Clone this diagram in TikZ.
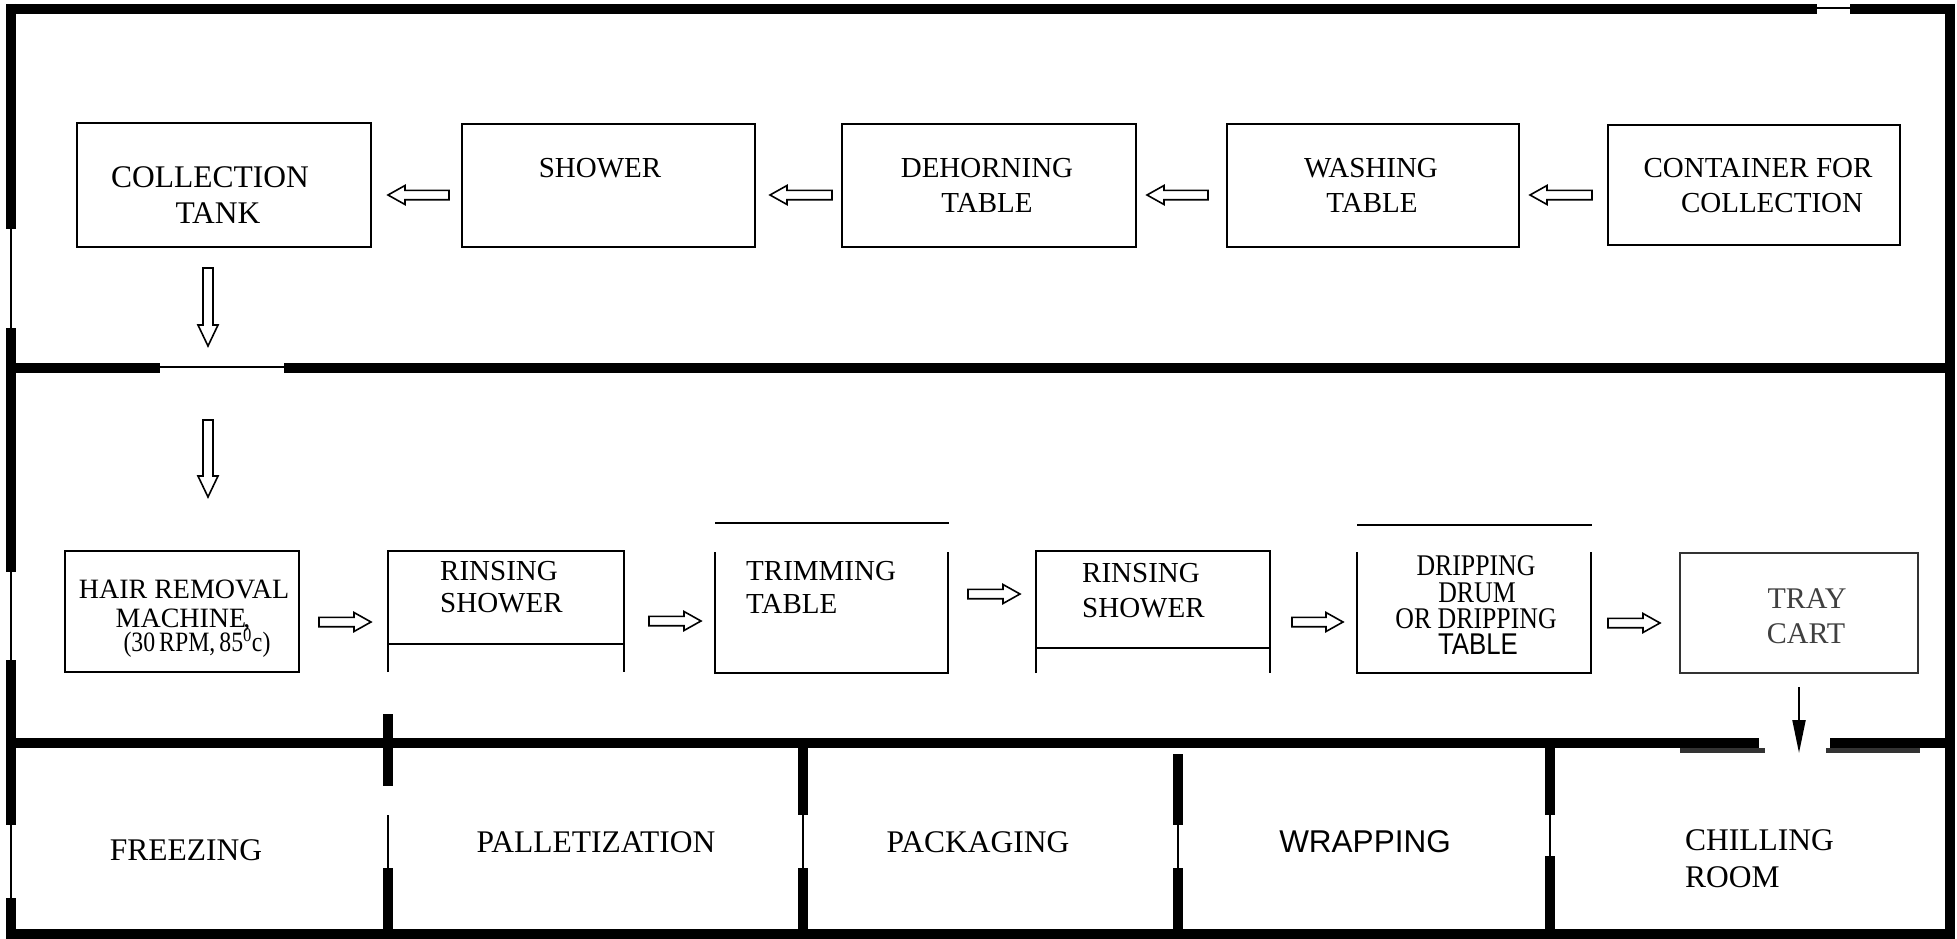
\documentclass[tikz,border=0pt]{standalone}
\usepackage{fontspec}
\usepackage{graphicx}
\setmainfont{Liberation Serif}
\newfontfamily\arialf{Liberation Sans}
\usetikzlibrary{calc,arrows.meta}
\tikzset{
  wall/.style={line width=10pt, line cap=butt},
  door/.style={line width=1.6pt},
  box/.style={draw, line width=1.8pt, inner sep=0pt, outer sep=0pt},
  ghost/.style={inner sep=0pt, outer sep=0pt},
  edge/.style={line width=1.8pt},
  lbl/.style={inner sep=0pt, anchor=base, font=\fontsize{29}{35}\selectfont},
  lblw/.style={lbl, anchor=base west},
  big/.style={font=\fontsize{31.5}{38}\selectfont},
  mid/.style={font=\fontsize{28}{34}\selectfont},
  drp/.style={font=\fontsize{30}{36}\selectfont},
  arrowline/.style={line width=1.6pt, line join=miter},
  pics/hblk/.style={code={\draw[arrowline] (0,0) -- (-17,9.5) -- (-17,4.7) -- (-#1,4.7) -- (-#1,-4.7) -- (-17,-4.7) -- (-17,-9.5) -- cycle;}},
  pics/vblk/.style={code={\draw[arrowline] (0,0) -- (-21,10) -- (-21,5) -- (-#1,5) -- (-#1,-5) -- (-21,-5) -- (-21,-10) -- cycle;}},
}
\begin{document}
\begin{tikzpicture}[x=1pt,y=-1pt]
\useasboundingbox (0,0) rectangle (1957,939);
\fill[white] (0,0) rectangle (1957,939);

% ---- walls ----
\draw[wall] (6,9) -- (1817,9);
\draw[wall] (1850,9) -- (1955,9);
\draw[door] (1817,8) -- (1850,8);
\draw[wall] (1950,4) -- (1950,939);
\draw[wall] (6,934) -- (1955,934);
\draw[wall] (11,4) -- (11,229);
\draw[wall] (11,328) -- (11,572);
\draw[wall] (11,660) -- (11,825);
\draw[wall] (11,898) -- (11,939);
\draw[door] (11,229) -- (11,328);
\draw[door] (11,572) -- (11,660);
\draw[door] (11,825) -- (11,898);
\draw[wall] (6,368) -- (160,368);
\draw[wall] (284,368) -- (1955,368);
\draw[door] (160,367) -- (284,367);
\draw[wall] (6,743) -- (1759,743);
\draw[wall] (1830,743) -- (1955,743);
\draw[line width=5pt, black!80] (1680,750) -- (1765,750);
\draw[line width=5pt, black!80] (1826,750) -- (1920,750);
% room dividers
\draw[wall] (388,714) -- (388,786);
\draw[wall] (388,868) -- (388,934);
\draw[door] (388,815) -- (388,868);
\draw[wall] (803,743) -- (803,815);
\draw[wall] (803,868) -- (803,934);
\draw[door] (803,815) -- (803,868);
\draw[wall] (1178,754) -- (1178,825);
\draw[wall] (1178,868) -- (1178,934);
\draw[door] (1178,825) -- (1178,868);
\draw[wall] (1550,743) -- (1550,815);
\draw[wall] (1550,856) -- (1550,934);
\draw[door] (1550,815) -- (1550,856);

% ---- top row boxes ----
\node[box, minimum width=294, minimum height=124] (tank) at (224,185) {};
\node[box, minimum width=293, minimum height=123] (shower) at (608.5,185.5) {};
\node[box, minimum width=294, minimum height=123] (dehorn) at (989,185.5) {};
\node[box, minimum width=292, minimum height=123] (wash) at (1373,185.5) {};
\node[box, minimum width=292, minimum height=120] (cont) at (1754,185) {};

\node[lbl, big] (tankA) at (210,187) {COLLECTION};
\node[lbl, big] (tankB) at (218,223) {TANK};
\node[lbl] (showerA) at (600,177) {SHOWER};
\node[lbl] (dehornA) at (987,177) {DEHORNING};
\node[lbl] (dehornB) at (987,212) {TABLE};
\node[lbl] (washA) at (1371,178) {WASHING};
\node[lbl] (washB) at (1372,212) {TABLE};
\node[lbl] (contA) at (1758,178) {CONTAINER FOR};
\node[lbl] (contB) at (1772,212) {COLLECTION};

\pic[rotate=180] at ($(tank.east)+(17,10)$) {hblk=61};
\pic[rotate=180] at ($(shower.east)+(15,9.5)$) {hblk=62};
\pic[rotate=180] at ($(dehorn.east)+(11,9.5)$) {hblk=61};
\pic[rotate=180] at ($(wash.east)+(11,9.5)$) {hblk=62};
\pic[rotate=-90] at ($(tank.south)+(-16,99)$) {vblk=78};

% ---- middle row ----
\node[box, minimum width=234, minimum height=121] (hair) at (182,611.5) {};
\pic[rotate=-90] at ($(hair.north)+(26,-54)$) {vblk=77};
\node[lbl, mid] (hairA) at (184,598) {HAIR REMOVAL};
\node[lbl, mid] (hairB) at (183,627) {MACHINE\kern-3pt,};
\node[lbl, mid] (hairC) at (197,651) {\scalebox{0.85}[1]{(30\,RPM,\,85\textsuperscript{0}c)}};

\node[ghost, minimum width=236, minimum height=121] (rs1) at (506,611.5) {};
\draw[edge] (rs1.south west) -- (rs1.north west) -- (rs1.north east) -- (rs1.south east);
\draw[edge] ($(rs1.north west)+(0,93)$) -- ($(rs1.north east)+(0,93)$);
\node[lblw] (rs1A) at (440,580) {RINSING};
\node[lblw] (rs1B) at (440,612) {SHOWER};

\node[ghost, minimum width=233, minimum height=121] (trim) at (831.5,612.5) {};
\draw[edge] (trim.north west) -- (trim.south west) -- (trim.south east) -- (trim.north east);
\draw[edge] ($(trim.north west)+(0,-29)$) -- ($(trim.north east)+(1,-29)$);
\node[lblw] (trimA) at (746,580) {TRIMMING};
\node[lblw] (trimB) at (746,613) {TABLE};

\node[ghost, minimum width=234, minimum height=122] (rs2) at (1153,612) {};
\draw[edge] (rs2.south west) -- (rs2.north west) -- (rs2.north east) -- (rs2.south east);
\draw[edge] ($(rs2.north west)+(0,97)$) -- ($(rs2.north east)+(0,97)$);
\node[lblw] (rs2A) at (1082,582) {RINSING};
\node[lblw] (rs2B) at (1082,617) {SHOWER};

\node[ghost, minimum width=234, minimum height=121] (drip) at (1474,612.5) {};
\draw[edge] (drip.north west) -- (drip.south west) -- (drip.south east) -- (drip.north east);
\draw[edge] ($(drip.north west)+(0,-27)$) -- ($(drip.north east)+(1,-27)$);
\node[lbl, drp] (dripA) at (1476,575) {\scalebox{0.86}[1]{DRIPPING}};
\node[lbl, drp] (dripB) at (1477,602) {\scalebox{0.86}[1]{DRUM}};
\node[lbl, drp] (dripC) at (1476,628) {\scalebox{0.86}[1]{OR DRIPPING}};
\node[lbl, drp] (dripD) at (1478,654) {\scalebox{0.86}[1]{\arialf TABLE}};

\node[box, draw=black!80, line width=2.5pt, minimum width=238, minimum height=120] (tray) at (1799,613) {};
\node[lbl, drp, text=black!75] (trayA) at (1807,608) {TRAY};
\node[lbl, drp, text=black!75] (trayB) at (1806,643) {CART};

\pic at ($(rs1.west)+(-17,10.5)$) {hblk=52};
\pic at ($(trim.west)+(-14,8.5)$) {hblk=52};
\pic at ($(rs2.west)+(-16,-18)$) {hblk=52};
\pic at ($(drip.west)+(-14,9.5)$) {hblk=51};
\pic at ($(tray.west)+(-20,10)$) {hblk=52};

\coordinate (chillin) at (1799,753);
\draw[line width=2pt, -{Triangle[length=33pt,width=13pt]}] ($(tray.south)+(0,14)$) -- (chillin);

% ---- bottom rooms ----
\node[lbl, big] (freez) at (186,860) {FREEZING};
\node[lbl, big] (pallet) at (596,852) {PALLETIZATION};
\node[lbl, big] (pack) at (978,852) {PACKAGING};
\node[lbl, big] (wrap) at (1365,852) {\arialf WRAPPING};
\node[lblw, big] (chillA) at (1685,850) {CHILLING};
\node[lblw, big] (chillB) at (1685,887) {ROOM};
\end{tikzpicture}
\end{document}
